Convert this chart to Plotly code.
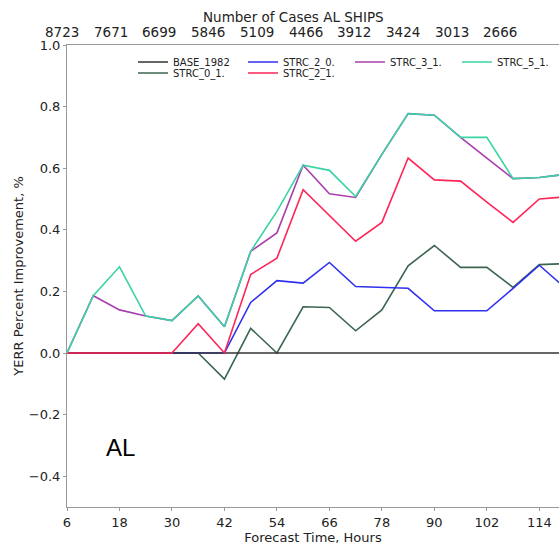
import plotly.graph_objects as go

# forecast hours
hours = [6, 12, 18, 24, 30, 36, 42, 48, 54, 60, 66, 72, 78, 84, 90, 96, 102, 108, 114, 120]

# YERR percent improvement per run
base_1982 = [0.0] * 20
strc_0_1 = [0, 0, 0, 0, 0, 0, -0.085, 0.08, 0.0, 0.15, 0.148, 0.072, 0.14, 0.283,
            0.349, 0.278, 0.278, 0.213, 0.287, 0.29]
strc_2_0 = [0, 0, 0, 0, 0, 0, 0, 0.164, 0.235, 0.227, 0.294, 0.216, 0.213, 0.21,
            0.137, 0.137, 0.137, 0.21, 0.285, 0.21]
strc_2_1 = [0, 0, 0, 0, 0, 0.095, 0, 0.255, 0.308, 0.53, 0.447, 0.363, 0.424, 0.633,
            0.562, 0.558, 0.49, 0.424, 0.50, 0.507]
strc_3_1 = [0, 0.186, 0.14, 0.12, 0.105, 0.185, 0.085, 0.33, 0.39, 0.61, 0.517, 0.505,
            0.645, 0.777, 0.772, 0.70, 0.633, 0.566, 0.57, 0.58]
strc_5_1 = [0, 0.186, 0.28, 0.12, 0.105, 0.185, 0.085, 0.33, 0.46, 0.61, 0.593, 0.508,
            0.645, 0.777, 0.772, 0.70, 0.70, 0.566, 0.57, 0.58]

# top axis: number of cases
cases = ['8723', '7671', '6699', '5846', '5109', '4466', '3912', '3424', '3013', '2666']

fig = go.Figure()

# one small legend per entry so the two legend rows sit close like matplotlib's
# (name, values, colour, legend id, legend x px, legend y px) in drawing order
runs = [
    ('STRC_0_1.', strc_0_1, '#3d6650', 'legend2', 133, 73),
    ('STRC_2_0.', strc_2_0, '#3030f0', 'legend3', 243, 62),
    ('BASE_1982', base_1982, '#333333', 'legend', 133, 62),
    ('STRC_2_1.', strc_2_1, '#ff2558', 'legend4', 243, 73),
    ('STRC_3_1.', strc_3_1, '#a83fae', 'legend5', 350, 62),
    ('STRC_5_1.', strc_5_1, '#3ad3a6', 'legend6', 457, 62),
]

L, T, W, H = 67, 45, 492, 462  # plot area in pixels
legends = {}
for name, vals, col, leg, lx, ly in runs:
    fig.add_trace(go.Scatter(x=hours, y=vals, name=name, mode='lines',
                             line=dict(color=col, width=1.6), legend=leg))
    legends[leg] = dict(x=(lx - L) / W, y=(T + H - ly) / H, xanchor='left', yanchor='middle',
                        bgcolor='rgba(0,0,0,0)', font=dict(size=10, color='#222'),
                        itemwidth=30)

# top "Number of Cases" labels
for i, c in enumerate(cases):
    fig.add_annotation(x=(62 + 48.7 * i - L) / W, y=1.0, xref='paper', yref='paper', text=c,
                       showarrow=False, xanchor='center', yanchor='bottom', yshift=3,
                       font=dict(size=13.5, color='#222'))
fig.add_annotation(x=0.46, y=1.0, xref='paper', yref='paper', text='Number of Cases AL SHIPS',
                   showarrow=False, xanchor='center', yanchor='bottom', yshift=18,
                   font=dict(size=13.5, color='#222'))
fig.add_annotation(x=0.108, y=0.128, xref='paper', yref='paper', text='AL', showarrow=False,
                   xanchor='center', yanchor='middle',
                   font=dict(family='Liberation Sans', size=24, color='black'))

fig.update_layout(
    width=559, height=546,
    margin=dict(l=L, r=0, t=T, b=546 - T - H),
    paper_bgcolor='white', plot_bgcolor='white',
    font=dict(family='DejaVu Sans', size=13, color='#222'),
    showlegend=True,
    xaxis=dict(range=[6, 118.5], tick0=6, dtick=12, showgrid=False, zeroline=False,
               showline=True, linecolor='#999', linewidth=1, mirror=True,
               ticks='outside', ticklen=3, tickcolor='#999',
               title=dict(text='Forecast Time, Hours', font=dict(size=13), standoff=2)),
    yaxis=dict(range=[-0.5, 1.0], dtick=0.2, tick0=0, tickformat='.1f', showgrid=False,
               zeroline=False, showline=True, linecolor='#999', linewidth=1,
               ticks='outside', ticklen=3, tickcolor='#999',
               title=dict(text='YERR Percent Improvement, %', font=dict(size=13), standoff=2)),
    **legends
)

# drop the browser's default 8px body margin so the figure fills the window
fig.write_html("out.html", config={'displayModeBar': False},
               post_script="document.body.style.margin = '0';")
